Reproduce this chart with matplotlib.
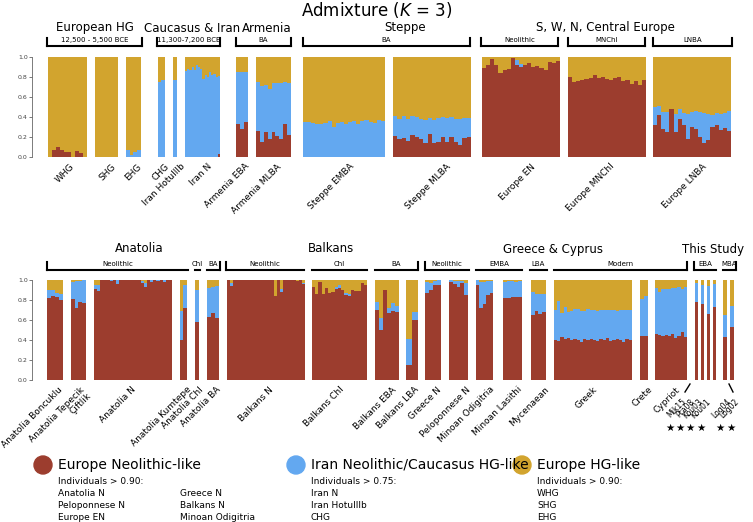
import matplotlib.pyplot as plt
from matplotlib.patches import Circle

RED = "#9C3D2E"
BLUE = "#63A8F0"
GOLD = "#D2A42E"

# per-sample ancestry: red = Europe Neolithic-like, blue = Iran/CHG-like (cumulative top = red+blue)
# row 1
whg_red = [0.0, 0.07, 0.1, 0.07, 0.05, 0.05, 0.0, 0.06, 0.04, 0.0]
whg_blue = [0.0] * 10
shg_red = [0.0] * 6
shg_blue = [0.0] * 6
ehg_red = [0.0, 0.0, 0.0, 0.0]
ehg_blue = [0.07, 0.02, 0.05, 0.07]
chg_red = [0.0, 0.0]
chg_blue = [0.75, 0.77]
hotu_red = [0.0]
hotu_blue = [0.77]
irann_red = [0.0] * 15 + [0.03]
irann_blue = [0.86, 0.88, 0.87, 0.9, 0.87, 0.92, 0.9, 0.88, 0.78, 0.82, 0.8, 0.85, 0.82, 0.83, 0.8, 0.78]
armeba_red = [0.33, 0.28, 0.35]
armeba_blue = [0.52, 0.57, 0.5]
armmlba_red = [0.26, 0.15, 0.25, 0.18, 0.25, 0.21, 0.18, 0.33, 0.22]
armmlba_blue = [0.49, 0.56, 0.47, 0.5, 0.49, 0.53, 0.56, 0.42, 0.52]
stemba_red = [0.0] * 20
stemba_blue = [0.35, 0.35, 0.34, 0.33, 0.33, 0.34, 0.36, 0.3, 0.34, 0.35, 0.33, 0.35, 0.36, 0.33, 0.36, 0.37, 0.35, 0.34, 0.37, 0.36]
stmlba_red = [0.21, 0.18, 0.19, 0.16, 0.22, 0.2, 0.18, 0.14, 0.23, 0.14, 0.15, 0.2, 0.15, 0.2, 0.15, 0.12, 0.19, 0.2]
stmlba_blue = [0.2, 0.2, 0.22, 0.22, 0.19, 0.2, 0.2, 0.23, 0.16, 0.23, 0.24, 0.2, 0.24, 0.2, 0.23, 0.26, 0.2, 0.19]
euen_red = [0.89, 0.92, 0.98, 0.92, 0.84, 0.87, 0.88, 0.99, 0.92, 0.9, 0.92, 0.94, 0.9, 0.91, 0.89, 0.87, 0.95, 0.94, 0.96]
euen_blue = [0.0] * 8 + [0.05, 0.03] + [0.0] * 9
eumn_red = [0.8, 0.75, 0.76, 0.77, 0.78, 0.79, 0.82, 0.79, 0.8, 0.78, 0.77, 0.79, 0.8, 0.76, 0.77, 0.73, 0.76, 0.72, 0.77]
eumn_blue = [0.0] * 19
eulnba_red = [0.32, 0.42, 0.28, 0.25, 0.48, 0.25, 0.38, 0.32, 0.18, 0.3, 0.28, 0.2, 0.14, 0.17, 0.3, 0.32, 0.27, 0.29, 0.26]
eulnba_blue = [0.18, 0.09, 0.17, 0.2, 0.0, 0.18, 0.1, 0.12, 0.25, 0.15, 0.18, 0.25, 0.3, 0.26, 0.12, 0.12, 0.16, 0.15, 0.2]

# row 2
bonc_red = [0.82, 0.84, 0.83, 0.8]
bonc_blue = [0.08, 0.06, 0.04, 0.06]
tep_red = [0.81, 0.72, 0.78, 0.77]
tep_blue = [0.17, 0.27, 0.21, 0.23]
anan_red = [0.91, 0.89, 1.0, 1.0, 1.0, 0.99, 1.0, 0.96, 1.0, 1.0, 1.0, 1.0, 1.0, 1.0, 1.0, 0.97, 0.93, 1.0, 0.98, 1.0, 0.99, 1.0, 0.98, 1.0, 1.0]
anan_blue = [0.04, 0.06, 0.0, 0.0, 0.0, 0.01, 0.0, 0.04, 0.0, 0.0, 0.0, 0.0, 0.0, 0.0, 0.0, 0.02, 0.04, 0.0, 0.02, 0.0, 0.01, 0.0, 0.02, 0.0, 0.0]
kum_red = [0.4, 0.72]
kum_blue = [0.29, 0.23]
anchl_red = [0.58]
anchl_blue = [0.32]
anba_red = [0.63, 0.67, 0.62]
anba_blue = [0.29, 0.26, 0.32]
balkn_red = [1.0, 0.94, 1.0, 1.0, 1.0, 1.0, 1.0, 1.0, 1.0, 1.0, 1.0, 1.0, 1.0, 1.0, 1.0, 0.84, 1.0, 0.88, 1.0, 1.0, 1.0, 1.0, 0.99, 1.0, 0.96]
balkn_blue = [0.0, 0.03, 0.0, 0.0, 0.0, 0.0, 0.0, 0.0, 0.0, 0.0, 0.0, 0.0, 0.0, 0.0, 0.0, 0.0, 0.0, 0.03, 0.0, 0.0, 0.0, 0.0, 0.0, 0.0, 0.01]
balkchl_red = [0.93, 0.86, 0.98, 0.86, 0.92, 0.87, 0.88, 0.91, 0.92, 0.9, 0.85, 0.84, 0.9, 0.89, 0.89, 0.97, 0.95]
balkchl_blue = [0.0, 0.0, 0.0, 0.0, 0.0, 0.0, 0.0, 0.02, 0.03, 0.0, 0.02, 0.02, 0.0, 0.0, 0.0, 0.0, 0.0]
balkeba_red = [0.7, 0.5, 0.9, 0.67, 0.69, 0.68]
balkeba_blue = [0.08, 0.12, 0.0, 0.05, 0.08, 0.06]
balklba_red = [0.15, 0.6]
balklba_blue = [0.26, 0.08]
grn_red = [0.87, 0.9, 0.95, 0.95]
grn_blue = [0.11, 0.07, 0.04, 0.05]
pel_red = [0.98, 0.96, 0.93, 0.97, 0.85]
pel_blue = [0.02, 0.03, 0.06, 0.02, 0.12]
odi_red = [0.95, 0.72, 0.76, 0.85, 0.87]
odi_blue = [0.05, 0.26, 0.22, 0.14, 0.12]
las_red = [0.82, 0.82, 0.83, 0.83, 0.83]
las_blue = [0.16, 0.17, 0.16, 0.15, 0.16]
myc_red = [0.65, 0.69, 0.66, 0.68]
myc_blue = [0.23, 0.17, 0.2, 0.18]
greek_red = [0.4, 0.39, 0.43, 0.41, 0.42, 0.4, 0.41, 0.4, 0.38, 0.41, 0.4, 0.41, 0.4, 0.39, 0.41, 0.4, 0.42, 0.39, 0.4, 0.41, 0.4, 0.38, 0.41, 0.4]
greek_blue = [0.3, 0.4, 0.24, 0.32, 0.26, 0.29, 0.3, 0.31, 0.31, 0.28, 0.31, 0.29, 0.3, 0.3, 0.29, 0.3, 0.28, 0.31, 0.3, 0.28, 0.3, 0.32, 0.29, 0.3]
crete_red = [0.44, 0.44]
crete_blue = [0.37, 0.4]
cyp_red = [0.46, 0.45, 0.44, 0.45, 0.44, 0.46, 0.42, 0.44, 0.48, 0.43]
cyp_blue = [0.46, 0.43, 0.47, 0.46, 0.47, 0.46, 0.5, 0.49, 0.43, 0.5]
ind_red = [0.78, 0.76, 0.66, 0.73, 0.43, 0.53]
ind_blue = [0.19, 0.19, 0.28, 0.23, 0.22, 0.21]
ind_names = ["Mik15", "Pta08", "Kou03", "Kou01", "Log04", "Log02"]

# layout: (label, red, blue, x0, x1, label anchor x) in pixel units
row1 = [
    ("WHG", whg_red, whg_blue, 48, 87, 70),
    ("SHG", shg_red, shg_blue, 95, 118, 111),
    ("EHG", ehg_red, ehg_blue, 126, 141, 137),
    ("CHG", chg_red, chg_blue, 158, 165, 165),
    ("Iran HotuIIIb", hotu_red, hotu_blue, 173, 177, 180),
    ("Iran N", irann_red, irann_blue, 185, 220, 207),
    ("Armenia EBA", armeba_red, armeba_blue, 236, 248, 245),
    ("Armenia MLBA", armmlba_red, armmlba_blue, 256, 291, 277),
    ("Steppe EMBA", stemba_red, stemba_blue, 303, 385, 350),
    ("Steppe MLBA", stmlba_red, stmlba_blue, 393, 471, 446),
    ("Europe EN", euen_red, euen_blue, 482, 560, 531),
    ("Europe MNChl", eumn_red, eumn_blue, 568, 646, 610),
    ("Europe LNBA", eulnba_red, eulnba_blue, 653, 731, 702),
]
row2 = [
    ("Anatolia Boncuklu", bonc_red, bonc_blue, 47, 63, 58),
    ("Anatolia Tepecik\nÇiftlik", tep_red, tep_blue, 71, 86, 80),
    ("Anatolia N", anan_red, anan_blue, 94, 172, 131),
    ("Anatolia Kumtepe", kum_red, kum_blue, 180, 187, 187),
    ("Anatolia Chl", anchl_red, anchl_blue, 195, 199, 199),
    ("Anatolia BA", anba_red, anba_blue, 207, 219, 216),
    ("Balkans N", balkn_red, balkn_blue, 227, 305, 269),
    ("Balkans Chl", balkchl_red, balkchl_blue, 312, 367, 339),
    ("Balkans EBA", balkeba_red, balkeba_blue, 375, 399, 392),
    ("Balkans LBA", balklba_red, balklba_blue, 406, 418, 414),
    ("Greece N", grn_red, grn_blue, 425, 441, 437),
    ("Peloponnese N", pel_red, pel_blue, 449, 468, 466),
    ("Minoan Odigitria", odi_red, odi_blue, 476, 493, 490),
    ("Minoan Lasithi", las_red, las_blue, 503, 522, 517),
    ("Mycenaean", myc_red, myc_blue, 531, 546, 544),
    ("Greek", greek_red, greek_blue, 554, 632, 593),
    ("Crete", crete_red, crete_blue, 640, 648, 648),
    ("Cypriot", cyp_red, cyp_blue, 655, 687, 675),
]
ind_x = [(695, 698), (701, 704), (707, 710), (713, 716), (723, 727), (730, 734)]

W, H = 753, 522
fig = plt.figure(figsize=(W / 100, H / 100), dpi=100)
over = fig.add_axes([0, 0, 1, 1], zorder=5)
over.set_xlim(0, W)
over.set_ylim(H, 0)
over.axis("off")
over.patch.set_alpha(0)

LAB = 6.5


def make_row(ytop, ybot):
    ax = fig.add_axes([0, 1 - ybot / H, 1, (ybot - ytop) / H])
    ax.set_xlim(0, W)
    ax.set_ylim(0, 1)
    for s in ["top", "right", "bottom"]:
        ax.spines[s].set_visible(False)
    ax.spines["left"].set_position(("data", 32))
    ax.spines["left"].set_color("#666666")
    ax.spines["left"].set_linewidth(0.6)
    ax.set_yticks([0, 0.2, 0.4, 0.6, 0.8, 1.0])
    ax.set_yticklabels(["0.0", "0.2", "0.4", "0.6", "0.8", "1.0"])
    ax.tick_params(axis="y", labelsize=4.5, length=2, width=0.5, pad=1, colors="#444444")
    ax.set_xticks([])
    ax.patch.set_alpha(0)
    return ax


def draw_pop(ax, red, blue, x0, x1):
    n = len(red)
    w = (x1 - x0) / n
    xs = [x0 + w * (i + 0.5) for i in range(n)]
    top = [r + b for r, b in zip(red, blue)]
    ax.bar(xs, [1] * n, width=w, color=GOLD, linewidth=0)
    ax.bar(xs, top, width=w, color=BLUE, linewidth=0)
    ax.bar(xs, red, width=w, color=RED, linewidth=0)


ax1 = make_row(57, 157)
for lab, r, b, x0, x1, lx in row1:
    draw_pop(ax1, r, b, x0, x1)
    over.text(lx, 162, lab, rotation=45, ha="right", va="top", rotation_mode="anchor", fontsize=LAB)

ax2 = make_row(280, 380)
for lab, r, b, x0, x1, lx in row2:
    draw_pop(ax2, r, b, x0, x1)
    over.text(lx, 385, lab, rotation=45, ha="right", va="top", rotation_mode="anchor", fontsize=LAB,
              linespacing=1.0)
for (x0, x1), r, b in zip(ind_x, ind_red, ind_blue):
    draw_pop(ax2, [r], [b], x0, x1)

# individual labels, slashes, stars
for nm, lx in zip(ind_names, [682, 690, 698, 706, 726, 734]):
    over.text(lx, 397, nm, rotation=45, ha="right", va="top", rotation_mode="anchor", fontsize=5.5)
over.plot([685, 690], [392, 384], color="black", lw=1)
over.plot([729, 733], [384, 392], color="black", lw=1)
for sx in [670, 680, 690, 701, 720, 731]:
    over.text(sx, 428, "★", ha="center", va="center", fontsize=7.5)

over.text(W / 2, 10, "Admixture ($K$ = 3)", ha="center", va="center", fontsize=12)


def header(x, y, text, size=8.5):
    over.text(x, y, text, ha="center", va="center", fontsize=size)


def bracket(x0, x1, y, text, ticks=(True, True)):
    over.plot([x0, x1], [y, y], color="black", lw=1.5)
    if ticks[0]:
        over.plot([x0, x0], [y, y - 8], color="black", lw=1.5)
    if ticks[1]:
        over.plot([x1, x1], [y, y - 8], color="black", lw=1.5)
    over.text((x0 + x1) / 2, y - 6, text, ha="center", va="center", fontsize=5)


header(95, 28, "European HG")
header(192, 28, "Caucasus & Iran")
header(267, 28, "Armenia")
header(405, 28, "Steppe")
header(605, 28, "S, W, N, Central Europe")
bracket(47, 142, 46, "12,500 - 5,500 BCE")
bracket(157, 220, 46, "11,300-7,200 BCE")
bracket(236, 291, 46, "BA")
bracket(303, 470, 46, "BA")
bracket(481, 558, 46, "Neolithic")
bracket(568, 645, 46, "MNChl")
bracket(653, 732, 46, "LNBA")

header(139, 249, "Anatolia")
header(331, 249, "Balkans")
header(553, 249, "Greece & Cyprus")
header(713, 249, "This Study")
by = 270
bracket(47, 188, by, "Neolithic", (True, False))
bracket(195, 200, by, "Chl", (False, False))
bracket(207, 220, by, "BA", (False, True))
bracket(226, 304, by, "Neolithic", (True, False))
bracket(312, 367, by, "Chl", (False, False))
bracket(375, 418, by, "BA", (False, True))
bracket(425, 469, by, "Neolithic", (True, False))
bracket(476, 522, by, "EMBA", (False, False))
bracket(530, 547, by, "LBA", (False, False))
bracket(554, 687, by, "Modern", (False, True))
bracket(694, 716, by, "EBA", (True, False))
bracket(723, 736, by, "MBA", (False, True))

# legend
leg = [
    (43, RED, "Europe Neolithic-like", "Individuals > 0.90:",
     [["Anatolia N", "Peloponnese N", "Europe EN"], ["Greece N", "Balkans N", "Minoan Odigitria"]]),
    (296, BLUE, "Iran Neolithic/Caucasus HG-like", "Individuals > 0.75:",
     [["Iran N", "Iran HotuIIIb", "CHG"]]),
    (522, GOLD, "Europe HG-like", "Individuals > 0.90:",
     [["WHG", "SHG", "EHG"]]),
]
for cx, col, title, sub, cols in leg:
    over.add_patch(Circle((cx, 465), 9, color=col))
    over.text(cx + 15, 465, title, ha="left", va="center", fontsize=10)
    over.text(cx + 15, 482, sub, ha="left", va="center", fontsize=6.5)
    for j, c in enumerate(cols):
        for k, t in enumerate(c):
            over.text(cx + 15 + j * 122, 494 + k * 12, t, ha="left", va="center", fontsize=6.5)

fig.savefig("out.png", dpi=100)
